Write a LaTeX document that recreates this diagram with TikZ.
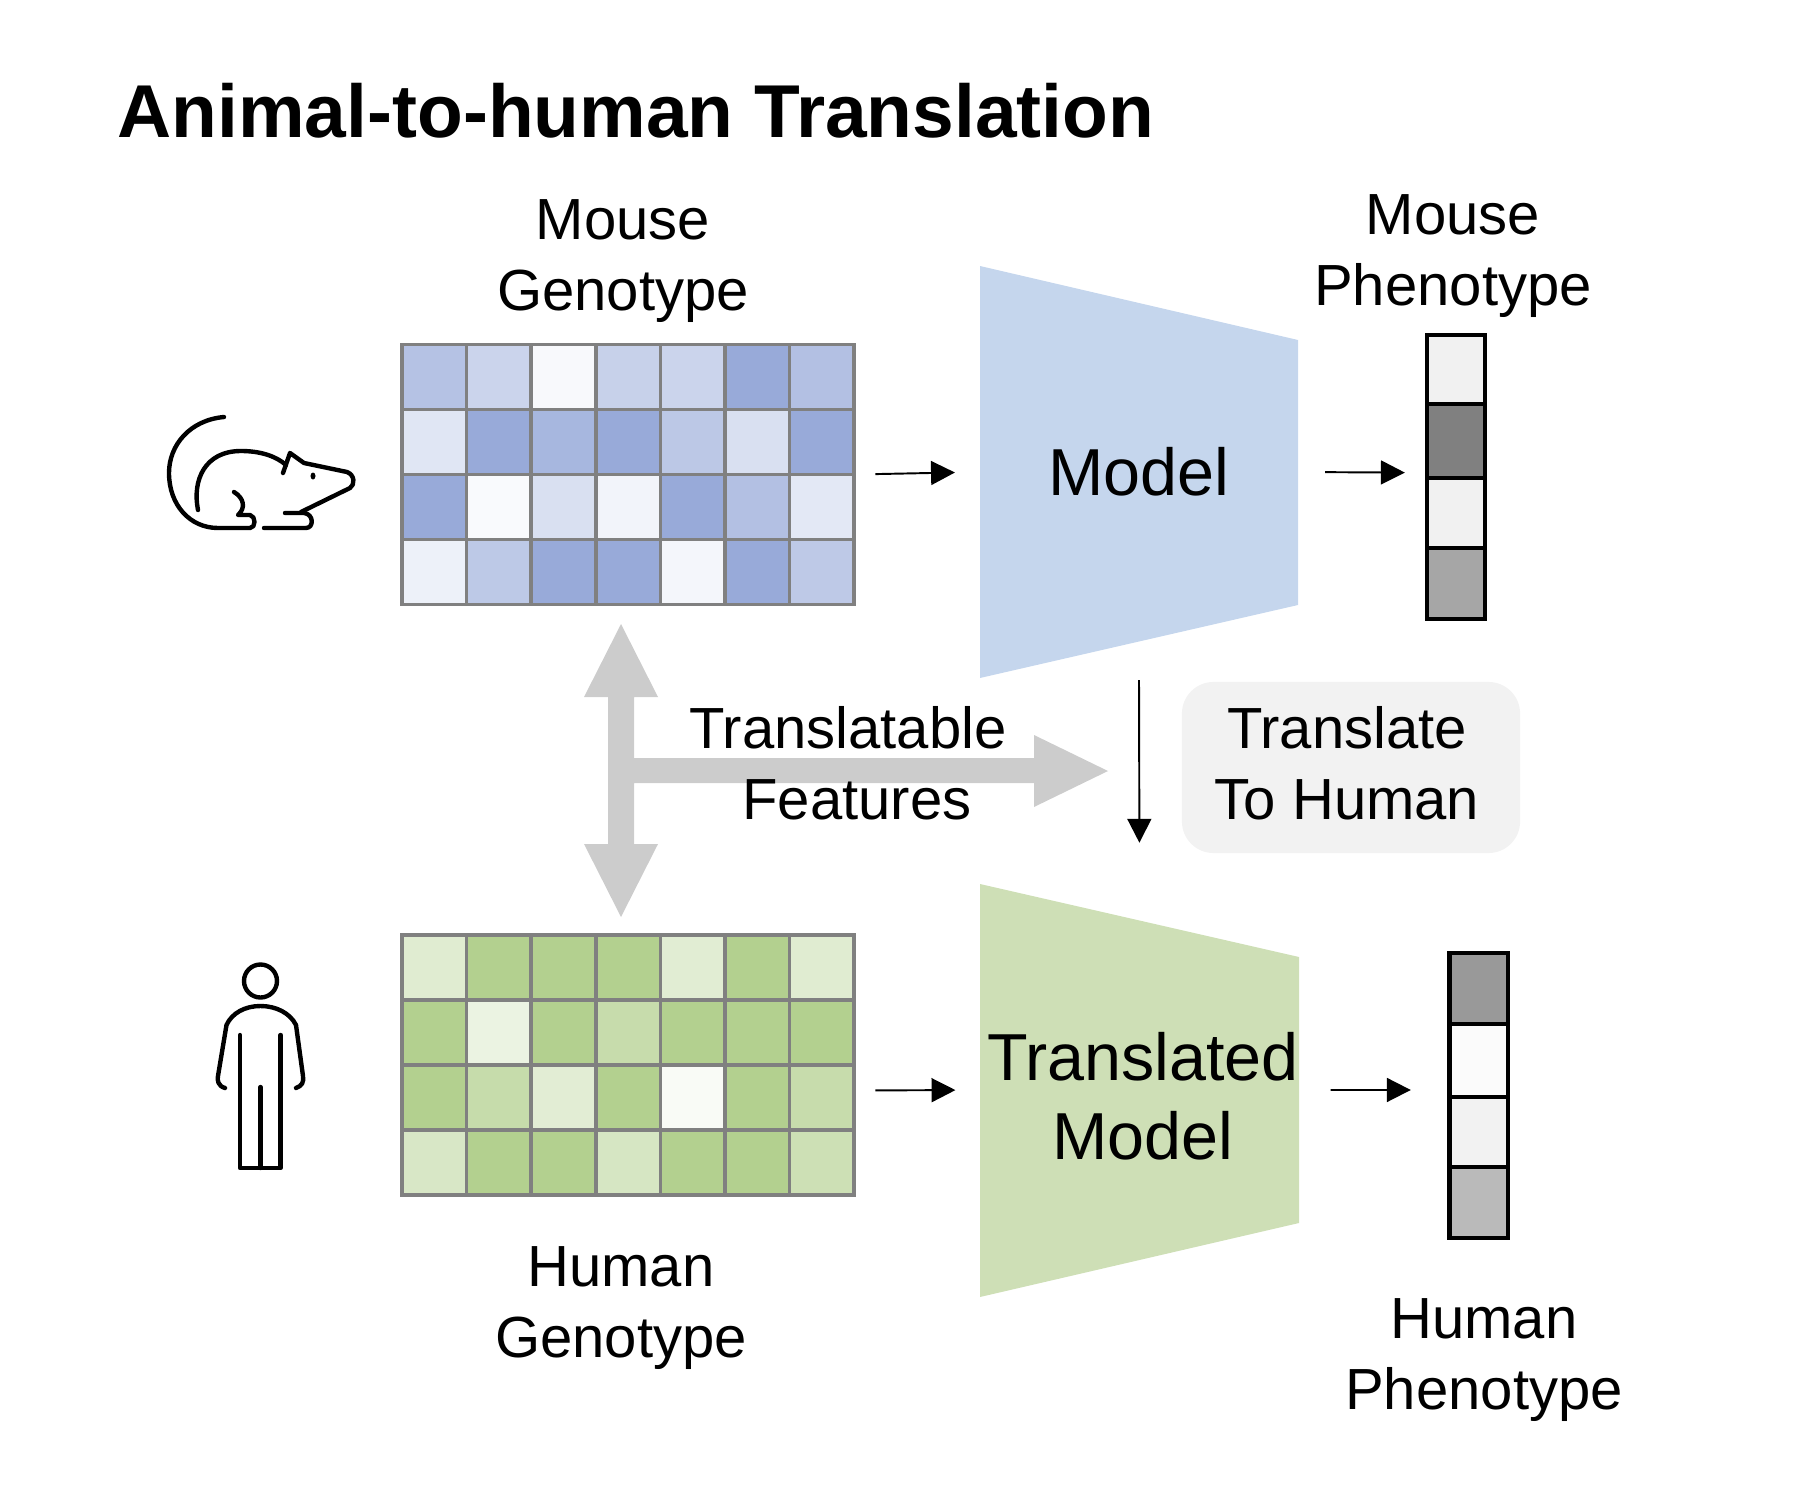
\documentclass[tikz,border=0pt]{standalone}
\usepackage{fontspec}
\setmainfont{Liberation Sans}
\usepackage{xcolor}
\usetikzlibrary{arrows.meta, positioning}
\definecolor{mouseheat}{HTML}{98AAD9}
\definecolor{humanheat}{HTML}{B3D08F}
\definecolor{gridgray}{HTML}{808080}
\definecolor{modelblue}{HTML}{C5D6ED}
\definecolor{modelgreen}{HTML}{CEDFB6}
\definecolor{sharedgray}{HTML}{CCCCCC}
\definecolor{notegray}{HTML}{F2F2F2}
\tikzset{
	>={Triangle[length=6.8pt,width=6.8pt]},
	label text/.style={font=\fontsize{16.5}{20.2}\selectfont, align=center, inner sep=0pt},
	model text/.style={font=\fontsize{18.9}{22.5}\selectfont, align=center, inner sep=0pt},
	heat cell/.style={draw=gridgray, line width=1.05pt, minimum width=0.646cm, minimum height=0.65cm, inner sep=0pt, outer sep=0pt},
	bar cell/.style={draw=black, line width=1.15pt, minimum width=0.58cm, inner sep=0pt, outer sep=0pt, anchor=north},
	model box/.style={minimum width=3.18cm, minimum height=4.12cm, inner sep=0pt, outer sep=0pt},
	flow/.style={line width=0.55pt, ->},
	icon/.style={line width=1.25pt, line cap=round, line join=round}
}
\begin{document}
\begin{tikzpicture}[x=0.01cm,y=-0.01cm]
	\useasboundingbox (0,0) rectangle (1800,1500);

	\node[anchor=west, inner sep=0pt, font=\fontsize{21.3}{25}\selectfont\bfseries] (title) at (117,111) {Animal-to-human Translation};

	\foreach \r/\vals in {0/{72,50,7,54,50,100,74},1/{30,100,85,100,65,37,100},2/{100,6,37,13,100,74,27},3/{17,64,100,100,11,100,63}}
		\foreach \v [count=\c from 0] in \vals
			\node[heat cell, fill=mouseheat!\v!white] (m\r\c) at ({434.3+64.6*\c},{377+65*\r}) {};
	\foreach \r/\vals in {0/{41,100,100,100,39,100,41},1/{100,26,100,74,100,100,100},2/{100,75,38,100,8,100,74},3/{51,100,100,54,100,100,66}}
		\foreach \v [count=\c from 0] in \vals
			\node[heat cell, fill=humanheat!\v!white] (h\r\c) at ({434.3+64.6*\c},{967.5+65*\r}) {};

	\fill[modelblue] (980,266) -- (1298,340) -- (1298,605) -- (980,678) -- cycle;
	\fill[modelgreen] (980,884) -- (1299,957) -- (1299,1223) -- (980,1297) -- cycle;
	\node[model box] (model) at (1139,472) {};
	\node[model box] (tmodel) at (1139.5,1090) {};
	\node[model text] (modellabel) at (1139,472) {Model};
	\node[model text] (tmodellabel) at (1143,1096) {Translated\\Model};

	\foreach \y/\h/\v [count=\i] in {335/69/5.5,404/74/50,478/70/5.5,548/71/35}
		\node[bar cell, fill=black!\v, minimum height=\h*0.01cm] (mb\i) at (1456,\y) {};
	\foreach \y/\h/\v [count=\i] in {953/71/40,1024/73/1.5,1097/70/5,1167/71/27}
		\node[bar cell, fill=black!\v, minimum height=\h*0.01cm] (hb\i) at (1478.5,\y) {};

	\fill[sharedgray] (621,624) -- (658,697) -- (634,697) -- (634,758) -- (1034,758) -- (1034,735) -- (1108,771) -- (1034,807) -- (1034,783) -- (634,783) -- (634,844) -- (658,844) -- (621,917) -- (584,844) -- (608,844) -- (608,697) -- (584,697) -- cycle;

	\node[label text] (mgeno) at (623,261) {Mouse\\Genotype};
	\node[label text] (mpheno) at (1453,256) {Mouse\\Phenotype};
	\node[label text] (hgeno) at (621,1308) {Human\\Genotype};
	\node[label text] (hpheno) at (1484,1360) {Human\\Phenotype};
	\node[label text] (shared1) at (848,728) {Translatable};
	\node[label text] (shared2) at (857,800) {Features};
	\node[fill=notegray, rounded corners=9pt, minimum width=3.38cm, minimum height=1.71cm, inner sep=0pt] (note) at (1351,767.5) {};
	\node[label text] (notelabel) at (1347,763) {Translate\\To Human};

	\coordinate (down) at (1139,680);
	\draw[flow, shorten <=6pt, shorten >=7.1pt] (m16.south east) -- (model.west);
	\draw[flow, shorten <=7.7pt, shorten >=6.3pt] (model.east) -- ([yshift=1.5pt]mb2.south west);
	\draw[flow, shorten <=6pt, shorten >=7.1pt] ([yshift=2pt]h26.east) -- (tmodel.west);
	\draw[flow, shorten <=9.1pt, shorten >=11pt] (tmodel.east) -- ([yshift=2pt]hb2.south west);
	\draw[flow, shorten >=11.7pt] (down) -- (tmodel.north);

	\draw[icon] (224,417) .. controls (190,420) and (169,445) .. (169,473) .. controls (169,505) and (190,528) .. (218,528) -- (250,528) .. controls (256,528) and (256,516) .. (250,515) -- (238,515) .. controls (246,508) and (244,498) .. (234,492);
	\draw[icon] (198,510) .. controls (192,480) and (205,451) .. (241,451) .. controls (260,451) and (276,456) .. (286,465);
	\draw[icon] (283,473) -- (290,453) -- (304,463) -- (347,472) .. controls (355,475) and (355,485) .. (350,488) -- (301,512);
	\draw[icon] (285,513) -- (304,513) .. controls (314,514) and (314,528) .. (306,528) -- (264,528);
	\fill (313,476) ellipse (2.5 and 3.5);

	\draw[icon] (260.5,981) ellipse (16.5 and 16.5);
	\draw[icon] (225,1088) .. controls (218,1086) and (217,1080) .. (218,1076) -- (226.5,1025) .. controls (232,1013) and (245,1006) .. (260.5,1006) .. controls (276,1006) and (290,1013) .. (296,1025) -- (303,1076) .. controls (304,1082) and (302,1086) .. (296,1088);
	\draw[icon] (240,1035) -- (240,1168) -- (280.6,1168) -- (280.6,1035);
	\draw[icon] (260.5,1087) -- (260.5,1168);
\end{tikzpicture}
\end{document}
